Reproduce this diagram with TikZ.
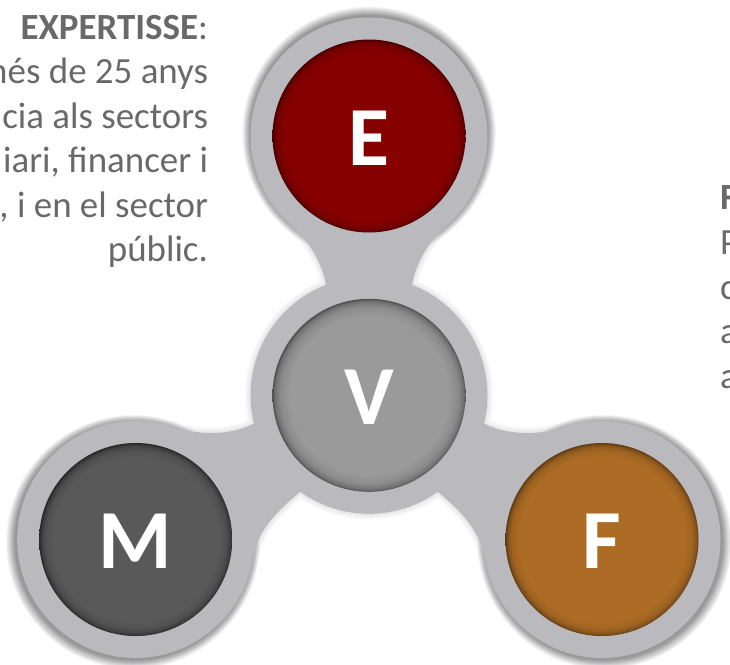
\documentclass[tikz,border=0pt]{standalone}
\usepackage{fontspec}
\setmainfont{Carlito}
\definecolor{ringgray}{HTML}{B9B9BE}
\definecolor{textgray}{HTML}{696969}
\definecolor{cE}{HTML}{860000}\definecolor{dE}{HTML}{470000}
\definecolor{cV}{HTML}{9A9A9A}\definecolor{dV}{HTML}{4F4F4F}
\definecolor{cM}{HTML}{595959}\definecolor{dM}{HTML}{262626}
\definecolor{cF}{HTML}{AD6C25}\definecolor{dF}{HTML}{5E3A12}
\pgfdeclareradialshading{ballE}{\pgfpoint{0bp}{0bp}}{color(0bp)=(cE); color(21.5bp)=(cE); color(23.5bp)=(cE!82!dE); color(24.5bp)=(cE!50!dE); color(25bp)=(dE); color(50bp)=(dE)}
\pgfdeclareradialshading{ballV}{\pgfpoint{0bp}{0bp}}{color(0bp)=(cV); color(20.5bp)=(cV); color(23bp)=(cV!80!dV); color(24.4bp)=(cV!45!dV); color(25bp)=(dV); color(50bp)=(dV)}
\pgfdeclareradialshading{ballM}{\pgfpoint{0bp}{0bp}}{color(0bp)=(cM); color(21.5bp)=(cM); color(23.5bp)=(cM!80!dM); color(24.5bp)=(cM!45!dM); color(25bp)=(dM); color(50bp)=(dM)}
\pgfdeclareradialshading{ballF}{\pgfpoint{0bp}{0bp}}{color(0bp)=(cF); color(21.5bp)=(cF); color(23.5bp)=(cF!80!dF); color(24.5bp)=(cF!45!dF); color(25bp)=(dF); color(50bp)=(dF)}
\tikzset{
  ball/.style={circle,inner sep=0pt,outer sep=0pt,minimum size=144.75pt,text=white,
    font=\fontsize{63}{63}\selectfont\bfseries,text height=43.5pt,text depth=0pt},
  caption/.style={inner sep=0pt,outer sep=0pt,text=textgray,font=\fontsize{27.7}{33.4}\selectfont}
}
\newcommand{\ringsPath}{
  (369,136) circle (118.5)
  (369,395.3) circle (118.5)
  (135.7,539.5) circle (118.5)
  (602,539.5) circle (118.5)
}
\newcommand{\neckE}{
  (293,227) .. controls (308,240) and (322,262) .. (326,285) -- (369,395.3) -- (412,285)
     .. controls (416,262) and (430,240) .. (445,227) -- (369,136) -- cycle
}
\newcommand{\neckM}{
  (173,427) .. controls (190,433) and (225,438) .. (253,424) -- (369,395.3) -- (300,492)
     .. controls (278,510) and (258,530) .. (253,557) -- (135.7,539.5) -- cycle
}
\newcommand{\neckF}{
  (565,427) .. controls (548,433) and (513,438) .. (485,424) -- (369,395.3) -- (438,492)
     .. controls (460,510) and (480,530) .. (485,560) -- (602,539.5) -- cycle
}
\begin{document}
\begin{tikzpicture}[x=0.75pt,y=-0.75pt]
\useasboundingbox (0,0) rectangle (730,664);
\clip (0,0) rectangle (730,664);
% soft glow round the whole shape
\foreach \w in {2,4,6,8,10,12}{
  \draw[black,opacity=0.014,line width=\w*0.75pt] \ringsPath \neckE \neckM \neckF;
}
% stronger directional shadows at the three ends
\foreach \r in {118.5,119,...,127}{
  \fill[black,opacity=0.022] (369,133.5) circle (\r);
  \fill[black,opacity=0.022] (133,542) circle (\r);
  \fill[black,opacity=0.022] (604.5,542) circle (\r);
}
\fill[ringgray] \ringsPath;
\fill[ringgray] \neckE;
\fill[ringgray] \neckM;
\fill[ringgray] \neckF;
\node[ball,shading=ballE] (E) at (369,136) {E};
\node[ball,shading=ballV] (V) at (369,395.3) {V};
\node[ball,shading=ballM] (M) at (135.7,539.5) {M};
\node[ball,shading=ballF] (F) at (602,539.5) {F};
\node[caption,anchor=north east,align=right] (expertisse) at (208,15)
  {\textbf{EXPERTISSE}:\\més de 25 anys\\cia als sectors\\iari, financer i\\, i en el sector\\públic.};
\node[caption,anchor=north west,align=left] (fcaption) at (720,186)
  {\textbf{F}\\P\\c\\a\\a};
\end{tikzpicture}
\end{document}
